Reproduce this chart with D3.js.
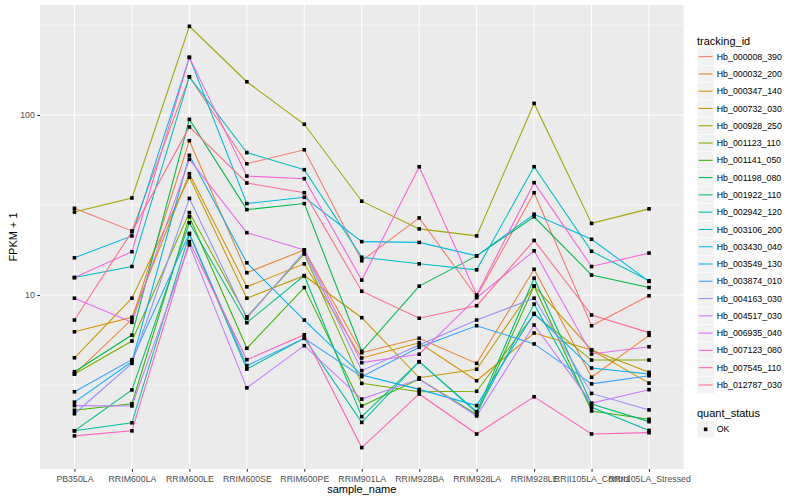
<!DOCTYPE html>
<html><head><meta charset="utf-8">
<script src="https://cdn.jsdelivr.net/npm/d3@7"></script>
<style>body{margin:0;background:#fff} text{font-family:"Liberation Sans",Arial,Helvetica,sans-serif}</style>
</head><body><svg id="c" width="800" height="500"></svg>
<script>
const samples = ["PB350LA","RRIM600LA","RRIM600LE","RRIM600SE","RRIM600PE","RRIM901LA","RRIM928BA","RRIM928LA","RRIM928LE","RRII105LA_Control","RRII105LA_Stressed"];
const trackingIds = ["Hb_000008_390","Hb_000032_200","Hb_000347_140","Hb_000732_030","Hb_000928_250","Hb_001123_110","Hb_001141_050","Hb_001198_080","Hb_001922_110","Hb_002942_120","Hb_003106_200","Hb_003430_040","Hb_003549_130","Hb_003874_010","Hb_004163_030","Hb_004517_030","Hb_006935_040","Hb_007123_080","Hb_007545_110","Hb_012787_030"];
const seriesColors = ["#F8766D","#EA8331","#D89000","#C09B00","#A3A500","#7CAE00","#39B600","#00BB4E","#00BF7D","#00C1A3","#00BFC4","#00BAE0","#00B0F6","#35A2FF","#9590FF","#C77CFF","#E76BF3","#FA62DB","#FF62BC","#FF6C91"];
const yTickValues = [10, 100];
const yTickLabels = ["10", "100"];
const yMinorValues = [Math.pow(10,0.5), Math.pow(10,1.5), Math.pow(10,2.5)];
const quantStatus = ["OK"];

// FPKM + 1 per sample (order of samples)
const Hb_000008_390 = [30.3, 22.7, 163, 53.6, 64.1, 15.5, 26.8, 9.8, 37.0, 6.75, 9.9];
const Hb_000032_200 = [3.64, 7.33, 72, 13.3, 17.8, 4.78, 5.75, 4.17, 13.9, 3.49, 5.97];
const Hb_000347_140 = [6.25, 7.52, 47.2, 11.1, 14.9, 4.47, 5.43, 3.34, 6.15, 4.95, 3.24];
const Hb_000732_030 = [4.48, 9.6, 45.1, 9.6, 12.8, 7.48, 3.47, 3.87, 11.2, 4.95, 3.72];
const Hb_000928_250 = [28.9, 34.6, 311, 153, 88.8, 33.2, 23.3, 21.3, 116, 25.0, 30.1];
const Hb_001123_110 = [3.64, 5.55, 28.7, 7.57, 16.9, 3.23, 2.90, 2.92, 7.81, 4.35, 4.35];
const Hb_001141_050 = [2.29, 2.49, 27.2, 5.06, 11.0, 2.42, 3.41, 2.17, 11.2, 2.27, 2.04];
const Hb_001198_080 = [3.75, 5.99, 94.6, 29.8, 32.2, 4.87, 11.2, 16.5, 27.2, 12.9, 11.0];
const Hb_001922_110 = [1.76, 2.97, 25.2, 7.02, 12.8, 2.11, 4.26, 2.25, 12.4, 2.48, 1.98];
const Hb_002942_120 = [1.76, 1.95, 21.8, 3.88, 5.75, 1.96, 4.26, 2.22, 8.9, 2.38, 1.77];
const Hb_003106_200 = [12.5, 14.4, 163, 61.8, 49.7, 16.2, 14.9, 13.8, 51.6, 17.5, 12.0];
const Hb_003430_040 = [16.1, 21.3, 209, 32.2, 34.9, 19.8, 19.6, 16.5, 28.1, 20.4, 11.9];
const Hb_003549_130 = [2.54, 4.26, 59.7, 15.1, 7.26, 3.59, 2.99, 2.43, 7.9, 3.93, 3.64];
const Hb_003874_010 = [2.90, 4.37, 22.0, 4.05, 5.75, 3.52, 5.12, 6.75, 5.35, 3.21, 3.56];
const Hb_004163_030 = [2.19, 4.17, 34.4, 7.43, 17.4, 3.80, 5.28, 7.26, 9.6, 2.84, 2.30];
const Hb_004517_030 = [2.43, 2.42, 19.0, 3.05, 5.23, 2.64, 3.41, 2.13, 6.81, 2.51, 2.98];
const Hb_006935_040 = [9.6, 7.05, 56.7, 22.2, 17.8, 4.21, 4.69, 9.66, 17.6, 4.70, 5.16];
const Hb_007123_080 = [12.5, 17.4, 209, 45.8, 44.3, 12.1, 51.6, 10.0, 42.1, 14.4, 17.1];
const Hb_007545_110 = [1.65, 1.76, 19.8, 4.37, 6.01, 1.42, 2.82, 1.69, 2.72, 1.69, 1.72];
const Hb_012787_030 = [7.26, 22.5, 85.8, 41.9, 37.0, 10.5, 7.43, 8.72, 20.1, 7.74, 6.18];

const seriesValues = [Hb_000008_390,Hb_000032_200,Hb_000347_140,Hb_000732_030,Hb_000928_250,Hb_001123_110,Hb_001141_050,Hb_001198_080,Hb_001922_110,Hb_002942_120,Hb_003106_200,Hb_003430_040,Hb_003549_130,Hb_003874_010,Hb_004163_030,Hb_004517_030,Hb_006935_040,Hb_007123_080,Hb_007545_110,Hb_012787_030];

const series = trackingIds.map((id,i)=>({id, color: seriesColors[i], values: seriesValues[i].map((v,j)=>({sample: samples[j], v}))}));

const svg = d3.select("#c");
const P = {l:40, r:683.5, t:5, b:469};
const x = d3.scalePoint().domain(samples).range([P.l, P.r]).padding(0.6);
const y = d3.scaleLog().domain([1.080, 408.4]).range([P.b, P.t]);

svg.append("rect").attr("x",P.l).attr("y",P.t).attr("width",P.r-P.l).attr("height",P.b-P.t).attr("fill","#EBEBEB");
// minor grid
svg.append("g").selectAll("line").data(yMinorValues).join("line")
  .attr("x1",P.l).attr("x2",P.r).attr("y1",d=>y(d)).attr("y2",d=>y(d))
  .attr("stroke","#fff").attr("stroke-width",0.53);
// major grid
svg.append("g").selectAll("line").data(yTickValues).join("line")
  .attr("x1",P.l).attr("x2",P.r).attr("y1",d=>y(d)).attr("y2",d=>y(d))
  .attr("stroke","#fff").attr("stroke-width",1.07);
svg.append("g").selectAll("line").data(samples).join("line")
  .attr("x1",d=>x(d)).attr("x2",d=>x(d)).attr("y1",P.t).attr("y2",P.b)
  .attr("stroke","#fff").attr("stroke-width",1.07);

// lines
const line = d3.line().x(d=>x(d.sample)).y(d=>y(d.v));
svg.append("g").selectAll("path").data(series).join("path")
  .attr("d",d=>line(d.values)).attr("fill","none")
  .attr("stroke",d=>d.color).attr("stroke-width",1.07);
// points
const pts = series.flatMap(s=>s.values);
svg.append("g").selectAll("rect").data(pts).join("rect")
  .attr("x",d=>x(d.sample)-1.8).attr("y",d=>y(d.v)-1.8)
  .attr("width",3.6).attr("height",3.6).attr("fill","#000");

// axes
const xAxis = d3.axisBottom(x).tickSize(2.75).tickPadding(3);
const gx = svg.append("g").attr("transform",`translate(0,${P.b})`).call(xAxis);
gx.select(".domain").remove();
gx.selectAll(".tick line").attr("stroke","#333").attr("stroke-width",1.07);
gx.selectAll(".tick text").attr("fill","#4D4D4D").attr("font-size",8.8).attr("dy","0.85em")
  .attr("font-family",'"Liberation Sans",Arial,sans-serif');
const yAxis = d3.axisLeft(y).tickValues(yTickValues).tickFormat((d,i)=>yTickLabels[i]).tickSize(2.75).tickPadding(2.4);
const gy = svg.append("g").attr("transform",`translate(${P.l},0)`).call(yAxis);
gy.select(".domain").remove();
gy.selectAll(".tick line").attr("stroke","#333").attr("stroke-width",1.07);
gy.selectAll(".tick text").attr("fill","#4D4D4D").attr("font-size",8.8)
  .attr("font-family",'"Liberation Sans",Arial,sans-serif');

svg.append("text").attr("x",(P.l+P.r)/2).attr("y",493).attr("text-anchor","middle")
  .attr("font-size",11).attr("fill","#000").text("sample_name");
svg.append("text").attr("transform",`translate(17,${(P.t+P.b)/2}) rotate(-90)`).attr("text-anchor","middle")
  .attr("font-size",11).attr("fill","#000").text("FPKM + 1");

// legend
const L = {x:697, y:48, k:17.28};
svg.append("text").attr("x",L.x).attr("y",44.5).attr("font-size",11).attr("fill","#000").text("tracking_id");
const lg = svg.append("g").selectAll("g").data(series).join("g")
  .attr("transform",(d,i)=>`translate(${L.x},${L.y+i*L.k})`);
lg.append("rect").attr("width",L.k).attr("height",L.k).attr("fill","#F2F2F2").attr("stroke","#fff").attr("stroke-width",0.6);
lg.append("line").attr("x1",1.7).attr("x2",L.k-1.7).attr("y1",L.k/2).attr("y2",L.k/2)
  .attr("stroke",d=>d.color).attr("stroke-width",1.07);
lg.append("text").attr("x",L.k+2.5).attr("y",L.k/2).attr("dy","0.35em").attr("font-size",8.8).attr("fill","#000").text(d=>d.id);

svg.append("text").attr("x",L.x).attr("y",416.5).attr("font-size",11).attr("fill","#000").text("quant_status");
const qg = svg.append("g").selectAll("g").data(quantStatus).join("g")
  .attr("transform",(d,i)=>`translate(${L.x},${420.7+i*L.k})`);
qg.append("rect").attr("width",L.k).attr("height",L.k).attr("fill","#F2F2F2").attr("stroke","#fff").attr("stroke-width",0.6);
qg.append("rect").attr("x",L.k/2-1.8).attr("y",L.k/2-1.8).attr("width",3.6).attr("height",3.6).attr("fill","#000");
qg.append("text").attr("x",L.k+2.5).attr("y",L.k/2).attr("dy","0.35em").attr("font-size",8.8).attr("fill","#000").text(d=>d);
</script></body></html>
